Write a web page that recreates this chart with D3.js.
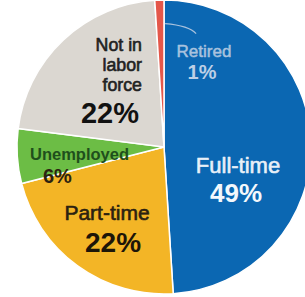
<!DOCTYPE html>
<html><head><meta charset="utf-8">
<script src="https://cdn.jsdelivr.net/npm/d3@7"></script>
<style>html,body{margin:0;padding:0;background:#fff;}svg{display:block;}</style>
</head><body>
<script>
const categories = ["Full-time", "Part-time", "Unemployed", "Not in labor force", "Retired"];
const values = [49, 22, 6, 22, 1];
const colors = ["#0b67b2", "#f3b526", "#6cbd45", "#dbd7d1", "#e4574a"];

const W = 305, H = 297;
const cx = 164, cy = 147, R = 147;
const svg = d3.select("body").append("svg").attr("width", W).attr("height", H);
const g = svg.append("g").attr("transform", `translate(${cx},${cy})`);

const pie = d3.pie().sort(null).value(d => d.v).startAngle(0).endAngle(2 * Math.PI);
const data = categories.map((c, i) => ({c, v: values[i], col: colors[i]}));
const arcs = pie(data);
const arc = d3.arc().innerRadius(0).outerRadius(R);

g.selectAll("path.slice").data(arcs).enter().append("path")
  .attr("class", "slice")
  .attr("d", arc)
  .attr("fill", d => d.data.col)
  .attr("stroke", "#fff").attr("stroke-width", 1.5);

const font = "'Liberation Sans', Arial, sans-serif";
const fmt = v => v + "%";
function txt(x, y, s, size, weight, fill, anchor, thick) {
  const t = g.append("text").attr("x", x).attr("y", y).text(s)
    .attr("font-family", font).attr("font-size", size).attr("font-weight", weight)
    .attr("fill", fill).attr("text-anchor", anchor || "middle");
  if (thick) t.attr("stroke", fill).attr("stroke-width", thick).attr("stroke-linejoin", "round");
  return t;
}

// Full-time
txt(74, 26, categories[0], 22, 400, "#e8f0f8", "middle", 0.6);
txt(72, 55, fmt(values[0]), 26, 700, "#f4f8fc");
// Part-time
txt(-57, 73, categories[1], 21, 400, "#2a2110", "middle", 0.6);
txt(-51, 105, fmt(values[1]), 28, 700, "#1d1608");
// Unemployed
txt(-134, 13, categories[2], 16.5, 700, "#1f4f1c", "start");
txt(-121, 36, fmt(values[2]), 20, 700, "#2b2210", "start");
// Not in labor force (three lines)
["Not in", "labor", "force"].forEach((s, i) =>
  txt(-22, -96 + i * 20, s, 17.8, 400, "#222", "end", 0.6));
txt(-54, -24, fmt(values[3]), 29, 700, "#111");
// Retired
txt(40, -90.5, categories[4], 17, 400, "#a9c2de", "middle", 0.5);
txt(38, -68.5, fmt(values[4]), 20, 700, "#bccfe6");

// leader line for Retired
const ret = arcs[4];
const mid = (ret.startAngle + ret.endAngle) / 2;
const r0 = R * 0.84;
const p0 = [Math.sin(mid) * r0 + 5, -Math.cos(mid) * r0];
g.append("path")
  .attr("d", `M${p0[0]},${p0[1]} Q${p0[0] + 24},${p0[1] + 2} ${p0[0] + 31},${p0[1] + 10}`)
  .attr("fill", "none").attr("stroke", "#a9c2de").attr("stroke-width", 1.2);
</script>
</body></html>
